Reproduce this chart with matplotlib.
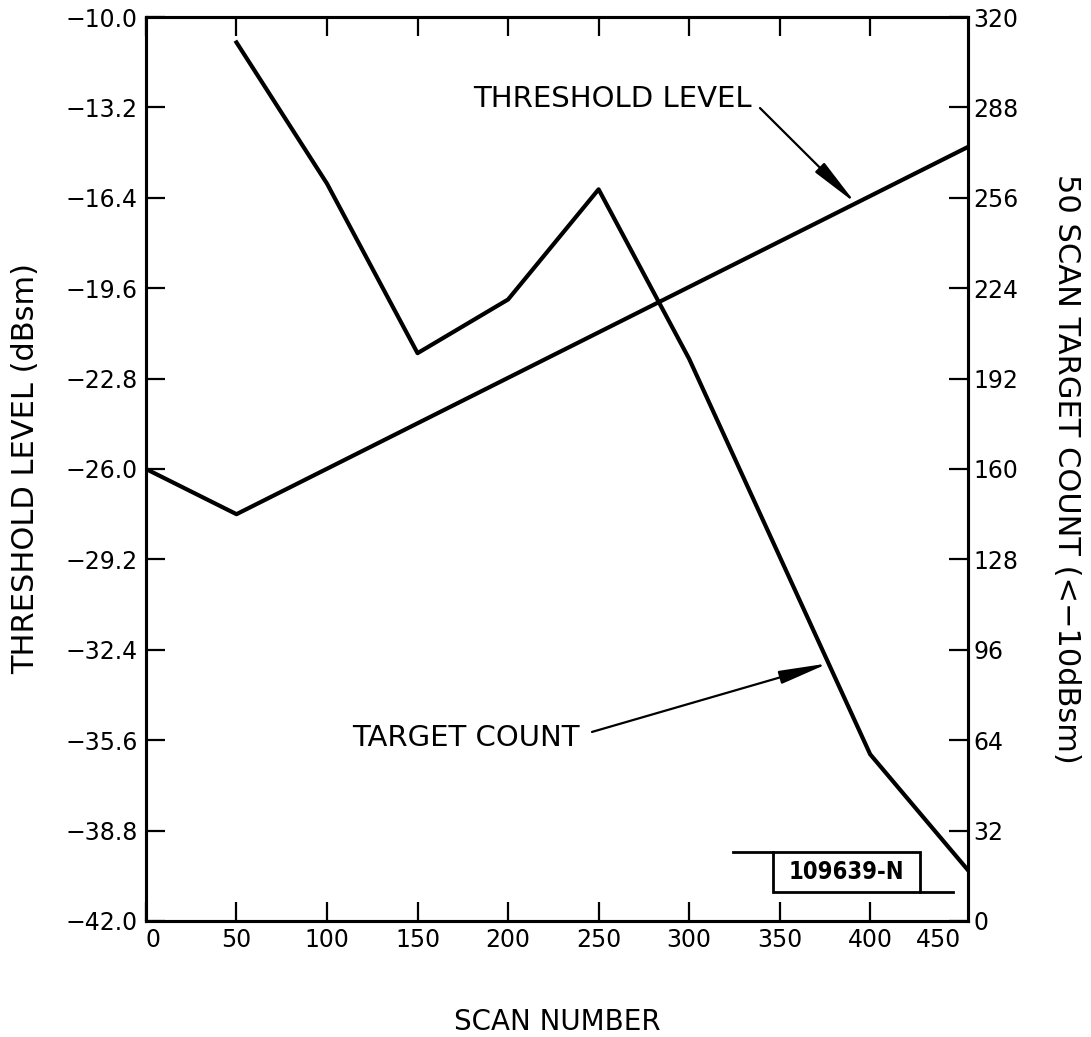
import numpy as np
import matplotlib.pyplot as plt
from matplotlib.patches import Rectangle

plt.rcParams['font.family'] = ['DejaVu Sans']

# threshold level (left axis, dBsm) vs scan number
thr_scan = [0, 50, 454]
thr_level = [-26.0, -27.6, -14.6]

# 50 scan target count (right axis)
cnt_scan = [50, 100, 150, 200, 250, 300, 400, 454]
cnt_value = [311, 261, 201, 220, 259, 199, 59, 18]

scan_ticks = [0, 50, 100, 150, 200, 250, 300, 350, 400, 450]
level_ticks = [-42.0, -38.8, -35.6, -32.4, -29.2, -26.0, -22.8, -19.6, -16.4, -13.2, -10.0]
count_ticks = [0, 32, 64, 96, 128, 160, 192, 224, 256, 288, 320]

# where the callout arrows touch the curves
thr_arrow_scan = 392
cnt_arrow_scan = 377

fig = plt.figure(figsize=(10.91, 10.37), dpi=100)
ax = fig.add_axes([0.1338, 0.1119, 0.7534, 0.8717])
ax2 = ax.twinx()

ax.plot(thr_scan, thr_level, color='black', lw=3)
ax2.plot(cnt_scan, cnt_value, color='black', lw=3)

ax.set_xlim(0, 454)
ax.set_ylim(-42.0, -10.0)
ax2.set_ylim(0, 320)

ax.set_xticks(scan_ticks)
ax.set_xticklabels([str(t) for t in scan_ticks])
ax.set_yticks(level_ticks)
ax.set_yticklabels([f'{t:.1f}'.replace('-', '\u2212') for t in level_ticks])
ax2.set_yticks(count_ticks)
ax2.set_yticklabels([str(t) for t in count_ticks])

xl = ax.get_xticklabels()
xl[0].set_ha('left')
xl[-1].set_ha('right')

ax.tick_params(axis='both', direction='in', length=14, width=1.6, labelsize=17)
ax.tick_params(axis='x', top=True, pad=5)
ax.tick_params(axis='y', pad=6)
ax2.tick_params(axis='y', direction='in', length=14, width=1.6, labelsize=17, pad=4)

# the 450 mark sits on the right frame, no separate tick there
last = ax.xaxis.get_major_ticks()[-1]
last.tick1line.set_visible(False)
last.tick2line.set_visible(False)

for a in (ax, ax2):
    for sp in a.spines.values():
        sp.set_linewidth(2.2)

ax.set_xlabel('SCAN NUMBER', fontsize=20, va='center')
ax.xaxis.set_label_coords(0.5, -0.1117)
ax.set_ylabel('THRESHOLD LEVEL (dBsm)', fontsize=22, va='center')
ax.yaxis.set_label_coords(-0.147, 0.5)
ax2.set_ylabel('50 SCAN TARGET COUNT (<\u221210dBsm)', fontsize=22, rotation=-90, va='center')
ax2.yaxis.set_label_coords(1.1204, 0.5)

arrow = dict(arrowstyle='-|>,head_length=1.5,head_width=0.2', color='black',
             lw=1.6, mutation_scale=20, shrinkA=0, shrinkB=0)

ax.text(0.737, 0.9093, 'THRESHOLD LEVEL', transform=ax.transAxes,
        ha='right', va='center', fontsize=21)
ax.annotate('', xy=(thr_arrow_scan, np.interp(thr_arrow_scan, thr_scan, thr_level)),
            xytext=(0.747, 0.8993), textcoords='axes fraction', arrowprops=arrow)

ax2.text(0.528, 0.2024, 'TARGET COUNT', transform=ax2.transAxes,
         ha='right', va='center', fontsize=21)
ax2.annotate('', xy=(cnt_arrow_scan, np.interp(cnt_arrow_scan, cnt_scan, cnt_value)),
             xytext=(0.5426, 0.2091), textcoords='axes fraction', arrowprops=arrow)

# figure id stamp in the lower right
ax.add_patch(Rectangle((0.763, 0.032), 0.1786, 0.0443, transform=ax.transAxes,
                       fill=False, lw=2, color='black', clip_on=False))
ax.plot([0.714, 0.763], [0.0763, 0.0763], transform=ax.transAxes, color='black', lw=2)
ax.plot([0.9416, 0.982], [0.032, 0.032], transform=ax.transAxes, color='black', lw=2)
ax.text(0.8516, 0.0542, '109639-N', transform=ax.transAxes, ha='center', va='center',
        fontsize=17, fontweight='bold', fontstretch='condensed')

fig.savefig('out.png', dpi=100)
